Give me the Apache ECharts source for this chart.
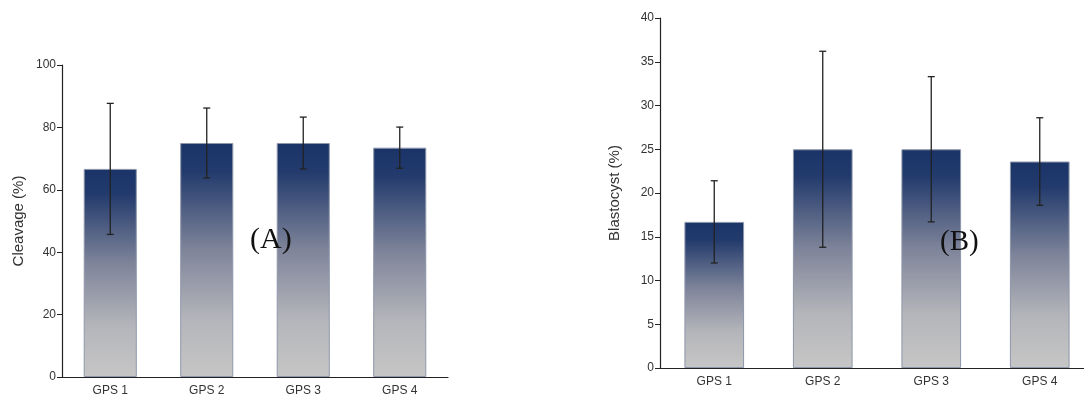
<!DOCTYPE html>
<html>
<head>
<meta charset="utf-8">
<script src="https://cdn.jsdelivr.net/npm/echarts@6/dist/echarts.min.js"></script>
<style>
  html, body { margin: 0; padding: 0; background: #fff; }
  #chart { width: 1084px; height: 399px; }
</style>
</head>
<body>
<div id="chart"></div>
<script>
// categories
var groups = ["GPS 1", "GPS 2", "GPS 3", "GPS 4"];
// (A) cleavage rate, mean and error (+/-)
var cleavageMean = [66.7, 75.0, 75.0, 73.5];
var cleavageErr = [21.0, 11.2, 8.3, 6.6];
// (B) blastocyst rate, mean and error (+/-)
var blastMean = [16.7, 25.0, 25.0, 23.6];
var blastErr = [4.7, 11.2, 8.3, 5.0];
// tick labels
var cleavageTicks = [0, 20, 40, 60, 80, 100];
var blastTicks = [0, 5, 10, 15, 20, 25, 30, 35, 40];

var myChart = echarts.init(document.getElementById("chart"));

var barColor = new echarts.graphic.LinearGradient(0, 0, 0, 1, [
  { offset: 0, color: "#1b3468" },
  { offset: 0.12, color: "#223a6c" },
  { offset: 0.45, color: "#7d8399" },
  { offset: 0.75, color: "#b4b5ba" },
  { offset: 1, color: "#c6c6c6" },
]);

function errData(mean, err) {
  var out = [];
  for (var i = 0; i < mean.length; i++) {
    out.push([i, mean[i] - err[i], mean[i] + err[i]]);
  }
  return out;
}

function renderErr(params, api) {
  var lo = api.coord([api.value(0), api.value(1)]);
  var hi = api.coord([api.value(0), api.value(2)]);
  var cap = 3.5;
  var st = { stroke: "#222", lineWidth: 1.3 };
  return {
    type: "group",
    children: [
      { type: "line", shape: { x1: hi[0], y1: hi[1], x2: lo[0], y2: lo[1] }, style: st },
      { type: "line", shape: { x1: hi[0] - cap, y1: hi[1], x2: hi[0] + cap, y2: hi[1] }, style: st },
      { type: "line", shape: { x1: lo[0] - cap, y1: lo[1], x2: lo[0] + cap, y2: lo[1] }, style: st },
    ],
  };
}

function xAxisOf(idx) {
  return {
    type: "category",
    gridIndex: idx,
    data: groups,
    axisLine: { lineStyle: { color: "#222", width: 1.2 } },
    axisTick: { alignWithLabel: true, length: 5, lineStyle: { color: "#222" } },
    axisLabel: { color: "#333", fontSize: 12, fontFamily: "Liberation Sans, Arial", margin: 8 },
  };
}

function yAxisOf(idx, name, ticks) {
  return {
    type: "value",
    gridIndex: idx,
    min: ticks[0],
    max: ticks[ticks.length - 1],
    interval: ticks[1] - ticks[0],
    name: name,
    nameLocation: "middle",
    nameGap: idx == 0 ? 36 : 38,
    nameTextStyle: { color: "#333", fontSize: 15, fontFamily: "Liberation Sans, Arial" },
    splitLine: { show: false },
    axisLine: { show: true, lineStyle: { color: "#222", width: 1.2 } },
    axisTick: { show: true, length: 5, lineStyle: { color: "#222" } },
    axisLabel: { color: "#333", fontSize: 12, fontFamily: "Liberation Sans, Arial", margin: 6 },
  };
}

myChart.setOption({
  animation: false,
  title: [
    {
      text: "(A)",
      left: 245,
      top: 220,
      textStyle: { fontFamily: "Liberation Serif, Times New Roman", fontSize: 30, fontWeight: "normal", color: "#111" },
    },
    {
      text: "(B)",
      left: 935,
      top: 223,
      textStyle: { fontFamily: "Liberation Serif, Times New Roman", fontSize: 29, fontWeight: "normal", color: "#111" },
    },
  ],
  grid: [
    { left: 62, top: 65, width: 386, height: 312, outerBoundsMode: "none" },
    { left: 660, top: 18, width: 434, height: 350, outerBoundsMode: "none" },
  ],
  xAxis: [xAxisOf(0), xAxisOf(1)],
  yAxis: [yAxisOf(0, "Cleavage (%)", cleavageTicks), yAxisOf(1, "Blastocyst (%)", blastTicks)],
  series: [
    {
      type: "bar",
      xAxisIndex: 0,
      yAxisIndex: 0,
      data: cleavageMean,
      barWidth: "55%",
      itemStyle: { color: barColor, borderColor: "#8e97aa", borderWidth: 1 },
    },
    {
      type: "custom",
      xAxisIndex: 0,
      yAxisIndex: 0,
      data: errData(cleavageMean, cleavageErr),
      renderItem: renderErr,
      z: 5,
    },
    {
      type: "bar",
      xAxisIndex: 1,
      yAxisIndex: 1,
      data: blastMean,
      barWidth: "55%",
      itemStyle: { color: barColor, borderColor: "#8e97aa", borderWidth: 1 },
    },
    {
      type: "custom",
      xAxisIndex: 1,
      yAxisIndex: 1,
      data: errData(blastMean, blastErr),
      renderItem: renderErr,
      z: 5,
    },
  ],
});
</script>
</body>
</html>
